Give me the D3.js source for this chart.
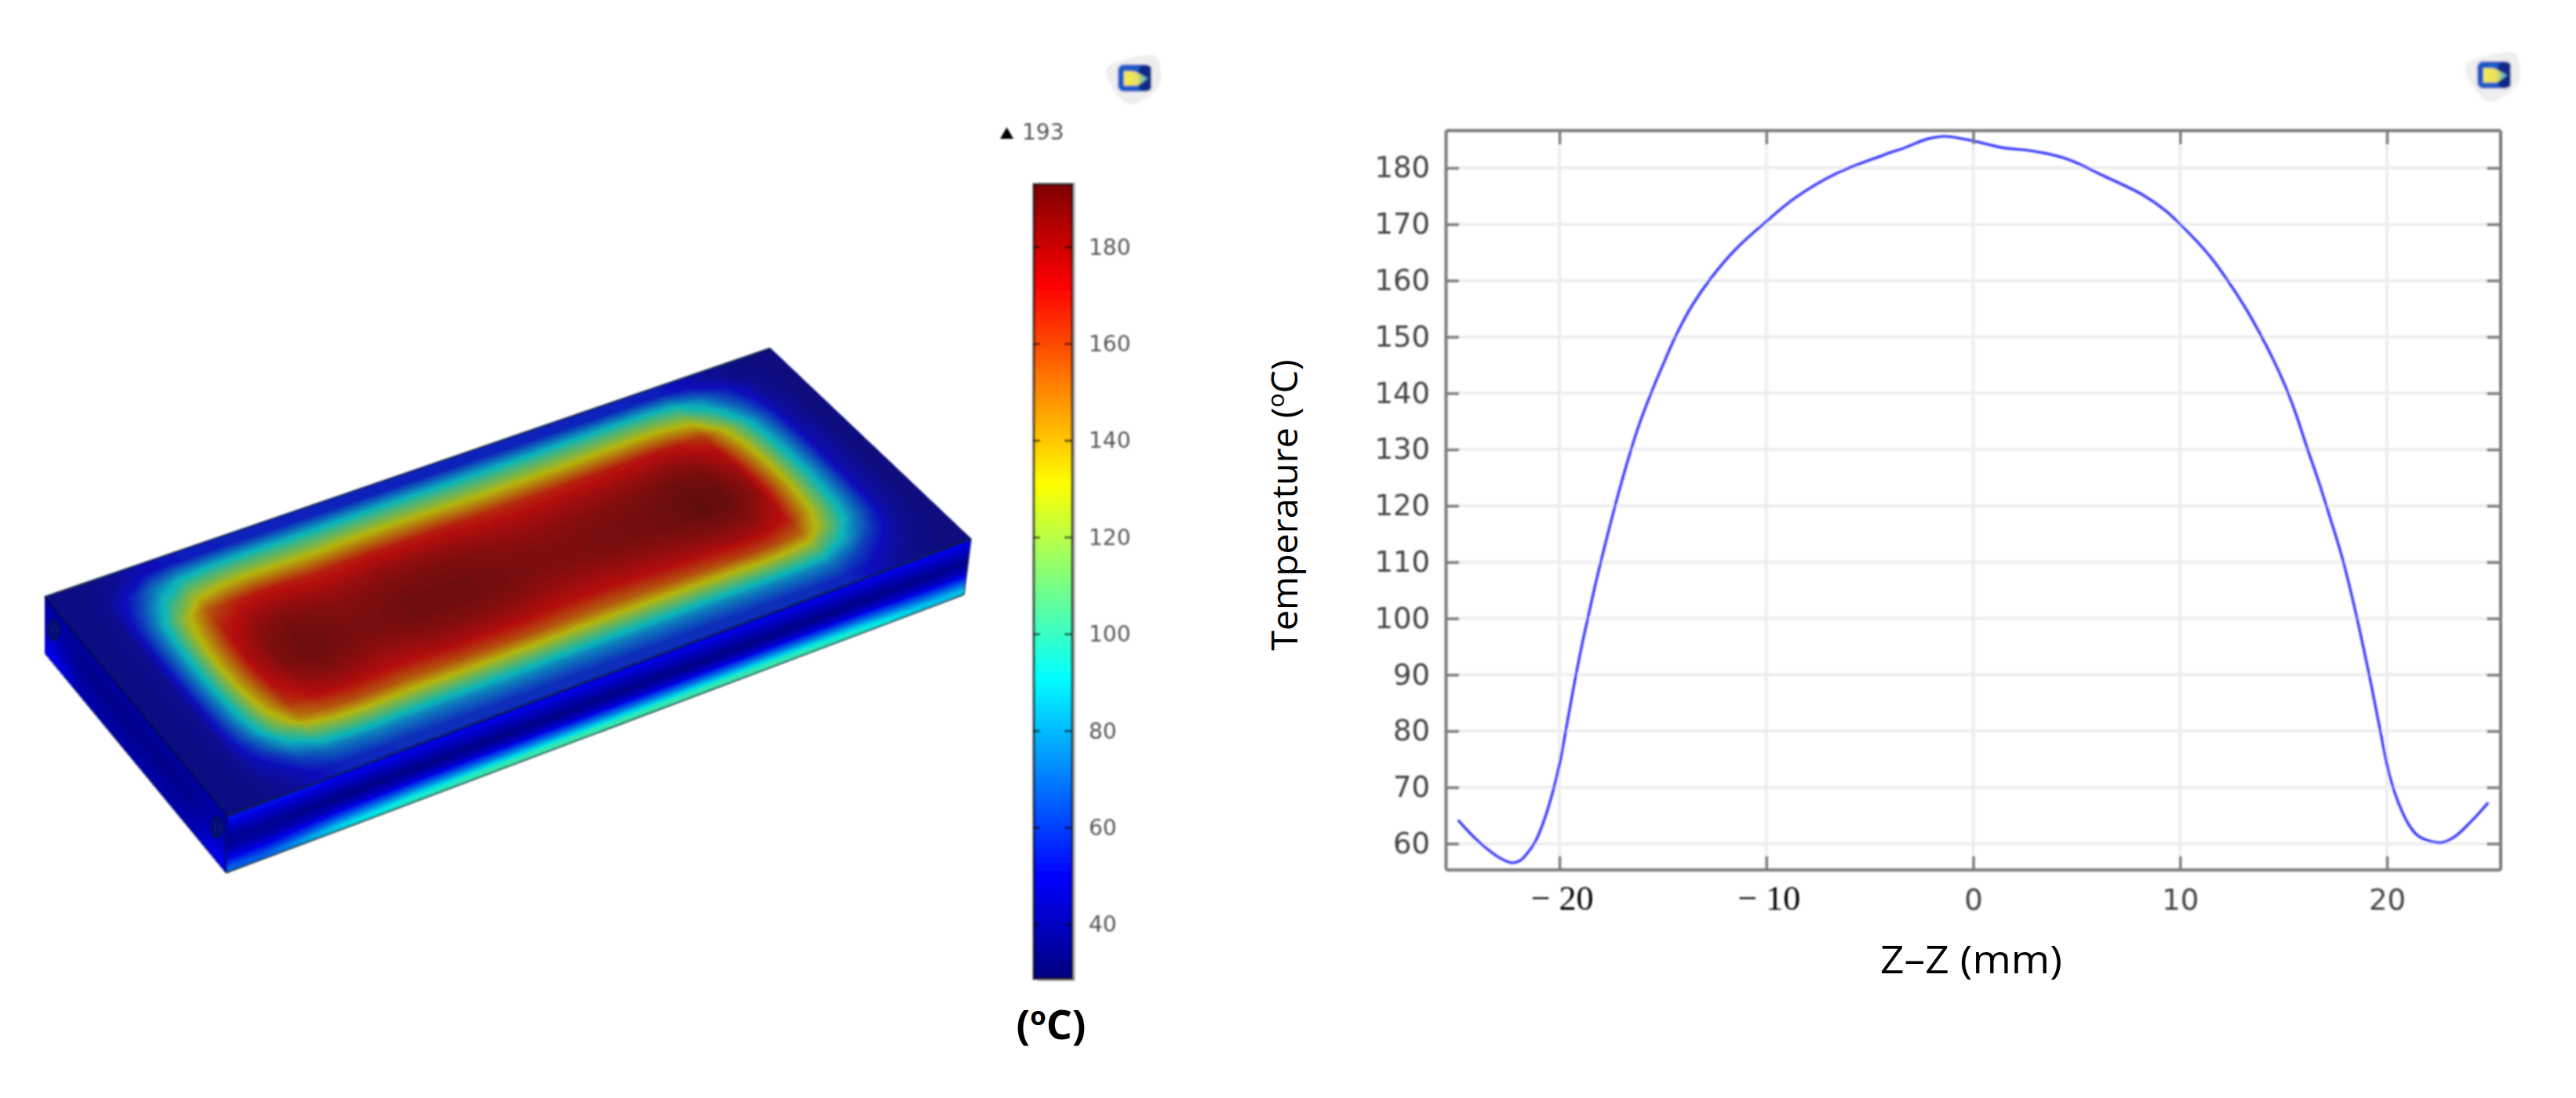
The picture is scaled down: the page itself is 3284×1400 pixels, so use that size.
<!DOCTYPE html>
<html>
<head>
<meta charset="utf-8">
<script src="https://cdn.jsdelivr.net/npm/d3@7"></script>
<style>
  html, body { margin: 0; padding: 0; background: #fff; }
  svg { display: block; }
</style>
</head>
<body>
<div id="chart"></div>
<script>
// Temperature along the Z-Z line
var zPositions = [-24.9, -24.25, -23.67, -22.9, -22.3, -21.9, -21.64, -21.16, -20.7, -20.3, -20, -19.77, -19.5, -19.2, -18.9, -18.6, -18.2, -17.8, -17.2, -16.7, -16.14, -15.46, -15, -14.4, -13.6, -12.66, -11.5, -10, -8.6, -6.68, -4.4, -3.3, -2.25, -1.4, 0, 1.4, 2.9, 4.6, 6.3, 8.2, 9.3, 10, 10.8, 11.6, 12.3, 13.1, 13.8, 14.5, 15.08, 15.6, 16.15, 16.7, 17.2, 17.86, 18.5, 19.14, 19.68, 20.1, 20.53, 21.07, 21.5, 22.14, 22.67, 23.3, 24.06, 24.9];
var temperatures = [64.2, 61.6, 59.6, 57.5, 56.6, 57, 57.9, 60.4, 64.6, 69.5, 74, 78.5, 84, 90, 95.5, 100.5, 107, 113, 121.5, 128, 134.5, 141, 145, 150, 155.5, 160.5, 165.5, 170.5, 174.7, 178.9, 182.2, 183.6, 185.1, 185.6, 184.8, 183.6, 183, 181.5, 178.6, 175.2, 172.4, 170, 167, 163.6, 160, 155.5, 151, 146, 141.3, 136.3, 130.2, 124.3, 118.5, 110.5, 100.9, 90, 80, 72.5, 67.5, 63.3, 61.4, 60.4, 60.2, 61.3, 63.9, 67.3];

var zTicks = [-20, -10, 0, 10, 20];
var tempTicks = [60, 70, 80, 90, 100, 110, 120, 130, 140, 150, 160, 170, 180];
var colorbarTicks = [40, 60, 80, 100, 120, 140, 160, 180];

// Rainbow table of the colour legend
var colorTemps = [28.8, 50, 91, 131, 172, 193];
var colorValues = ["#00007f", "#0000ff", "#00ffff", "#ffff00", "#ff0000", "#7f0000"];

var topFaceTemps = [
  [36,37,40,48,53,54,55,55,55,55,55,55,55,55,55,55,55,55,55,55,55,55,55,54,48,40,36,35],
  [36,38,54,77,93,98,100,100,99,99,100,100,100,100,99,99,99,99,99,100,100,101,100,96,77,56,39,35],
  [36,38,65,98,124,131,134,133,132,132,134,134,134,133,132,131,131,132,132,133,134,135,134,128,99,68,42,35],
  [36,39,75,120,154,165,168,167,165,166,167,167,167,167,165,164,164,165,166,167,168,170,168,160,122,80,44,35],
  [36,39,79,128,165,177,180,179,177,178,180,180,180,179,177,176,176,177,178,179,180,182,180,171,130,85,45,35],
  [36,39,81,132,172,183,187,185,183,184,186,186,186,185,183,182,182,183,184,185,187,189,187,177,134,87,46,35],
  [36,39,82,134,174,186,190,188,186,187,189,189,189,188,186,185,185,186,187,188,190,192,190,180,136,88,46,35],
  [36,39,82,134,174,186,190,188,186,187,189,189,189,188,186,185,185,186,187,188,190,192,190,180,136,88,46,35],
  [36,39,80,131,169,181,185,183,181,182,184,184,184,183,181,180,180,181,182,183,185,186,185,175,132,86,46,35],
  [36,39,78,125,162,173,176,175,173,174,176,176,176,175,173,172,172,173,174,175,176,178,176,167,127,83,45,35],
  [36,39,72,112,144,153,156,155,153,154,155,155,155,155,153,152,152,153,154,155,156,158,156,148,114,76,44,35],
  [36,38,60,88,109,116,118,117,116,117,117,117,117,117,116,116,116,116,117,117,118,119,118,113,89,63,41,35],
  [36,38,48,64,75,78,80,79,79,79,80,80,80,79,79,79,79,79,79,79,80,80,80,77,64,49,38,35],
  [36,37,41,50,56,57,58,58,58,58,58,58,58,58,58,58,58,58,58,58,58,58,58,57,50,41,36,35]
];
var frontFaceTemps = [
  [52,50,49,49,49,49,49,49,49,50],
  [42,40,40,40,40,40,40,40,40,41],
  [34,32,32,32,32,32,32,32,32,33],
  [38,42,44,44,44,44,44,44,44,42],
  [50,62,68,70,70,70,70,70,68,62],
  [66,86,96,100,100,100,100,100,96,84]
];
var sideFaceTemps = [
  [38,36,36,36,36,36,36,38],
  [40,34,33,33,33,33,34,40],
  [44,36,35,35,35,35,36,44],
  [50,40,38,38,38,38,40,50]
];

var width = 3284, height = 1400;

var svg = d3.select("#chart").append("svg")
  .attr("width", width)
  .attr("height", height);

var defs = svg.append("defs");
defs.append("filter").attr("id", "soft")
  .attr("x", "-5%").attr("y", "-5%").attr("width", "110%").attr("height", "110%")
  .append("feGaussianBlur").attr("stdDeviation", 0.9);
defs.append("filter").attr("id", "softer")
  .attr("x", "-20%").attr("y", "-20%").attr("width", "140%").attr("height", "140%")
  .append("feGaussianBlur").attr("stdDeviation", 1.8);

var jet = d3.scaleLinear().domain(colorTemps).range(colorValues).interpolate(d3.interpolateRgb);

// The top face is lit a bit duller than the legend
function shaded(t) {
  var c = d3.rgb(jet(t));
  return d3.rgb(c.r * 0.68 + 8, c.g * 0.68 + 8, c.b * 0.68 + 14).formatHex();
}
function sideShaded(t) {
  var c = d3.rgb(jet(t));
  return d3.rgb(c.r * 0.9, c.g * 0.9, c.b * 0.9).formatHex();
}

// ---- slab, left panel
var corner = {
  a: [57, 761], b: [982, 444], c: [1238, 687], d: [290, 1040],
  e: [288, 1113], f: [57, 833], g: [1229, 758]
};

function quadMap(p00, p10, p11, p01) {
  return function(u, v) {
    return [
      (1 - u) * (1 - v) * p00[0] + u * (1 - v) * p10[0] + u * v * p11[0] + (1 - u) * v * p01[0],
      (1 - u) * (1 - v) * p00[1] + u * (1 - v) * p10[1] + u * v * p11[1] + (1 - u) * v * p01[1]
    ];
  };
}

var faceCount = 0;
function drawFace(parent, temps, p00, p10, p11, p01, fill) {
  var map = quadMap(p00, p10, p11, p01);
  var rows = temps.length, cols = temps[0].length;
  // repeat the outer cells so the contour corners are not chamfered inside the face
  var padded = [temps[0]].concat(temps, [temps[rows - 1]]).map(function(r) {
    return [r[0]].concat(r, [r[cols - 1]]);
  });
  var levels = d3.range(28, 194, 1.5);
  var contours = d3.contours().size([cols + 2, rows + 2]).thresholds(levels)(padded.flat());
  var path = d3.geoPath(d3.geoTransform({
    point: function(x, y) {
      var p = map((x - 1) / cols, (y - 1) / rows);
      this.stream.point(p[0], p[1]);
    }
  }));
  var id = "face" + (faceCount++);
  defs.append("clipPath").attr("id", id)
    .append("polygon").attr("points", [p00, p10, p11, p01].join(" "));
  parent.append("g").attr("clip-path", "url(#" + id + ")")
    .selectAll("path")
    .data(contours)
    .join("path")
    .attr("d", path)
    .attr("fill", function(d) { return fill(d.value + 0.75); });
}

var slab = svg.append("g").attr("filter", "url(#soft)");
drawFace(slab, topFaceTemps, corner.a, corner.b, corner.c, corner.d, shaded);
drawFace(slab, frontFaceTemps, corner.d, corner.c, corner.g, corner.e, sideShaded);
drawFace(slab, sideFaceTemps, corner.a, corner.d, corner.e, corner.f, sideShaded);

var edgeLine = d3.line();
[[corner.a, corner.b, "#1a2a45", 2], [corner.a, corner.d, "#060c40", 2],
 [corner.d, corner.c, "#0a1a3a", 2.5], [corner.d, corner.e, "#060c40", 2],
 [corner.f, corner.e, "#404a70", 1], [corner.e, corner.g, "#2a4a50", 2], [corner.c, corner.g, "#202a50", 1.5]
].forEach(function(edge) {
  slab.append("path")
    .attr("d", edgeLine([edge[0], edge[1]]))
    .attr("fill", "none")
    .attr("stroke", edge[2])
    .attr("stroke-width", edge[3]);
});

// screw holes on the side face
[[68.6, 803], [276.5, 1055]].forEach(function(h) {
  slab.append("ellipse").attr("cx", h[0]).attr("cy", h[1]).attr("rx", 7.5).attr("ry", 13)
    .attr("fill", "#000a80").attr("stroke", "#0a1040").attr("stroke-width", 2);
  slab.append("ellipse").attr("cx", h[0] + 1).attr("cy", h[1] + 1).attr("rx", 3.5).attr("ry", 7)
    .attr("fill", "none").attr("stroke", "#101a70").attr("stroke-width", 1.5);
});

// ---- colour legend
var cbarX = 1318, cbarW = 49;
var cbarY = d3.scaleLinear().domain([28.8, 193]).range([1248, 235]);

var grad = defs.append("linearGradient").attr("id", "jetGrad")
  .attr("x1", 0).attr("x2", 0).attr("y1", 1).attr("y2", 0);
grad.selectAll("stop")
  .data(colorTemps)
  .join("stop")
  .attr("offset", function(d) { return (d - 28.8) / (193 - 28.8); })
  .attr("stop-color", function(d, i) { return colorValues[i]; });

var cbar = svg.append("g").attr("filter", "url(#soft)");
cbar.append("rect")
  .attr("x", cbarX + 4).attr("y", cbarY(193) - 2)
  .attr("width", cbarW).attr("height", cbarY(28.8) - cbarY(193) + 5)
  .attr("fill", "#c4c4c4");
cbar.append("rect")
  .attr("x", cbarX).attr("y", cbarY(193))
  .attr("width", cbarW).attr("height", cbarY(28.8) - cbarY(193))
  .attr("fill", "url(#jetGrad)")
  .attr("stroke", "#000").attr("stroke-opacity", 0.75).attr("stroke-width", 3);

cbar.selectAll("line.lt")
  .data(colorbarTicks)
  .join("line")
  .attr("class", "lt")
  .attr("x1", cbarX).attr("x2", cbarX + 8)
  .attr("y1", function(d) { return cbarY(d); }).attr("y2", function(d) { return cbarY(d); });
cbar.selectAll("line.rt")
  .data(colorbarTicks)
  .join("line")
  .attr("class", "rt")
  .attr("x1", cbarX + cbarW - 10).attr("x2", cbarX + cbarW)
  .attr("y1", function(d) { return cbarY(d); }).attr("y2", function(d) { return cbarY(d); });
cbar.selectAll("line").attr("stroke", "#000").attr("stroke-opacity", 0.6).attr("stroke-width", 3);

var cbarAxis = cbar.append("g")
  .attr("transform", "translate(" + (cbarX + cbarW) + ",0)")
  .call(d3.axisRight(cbarY).tickValues(colorbarTicks).tickSize(0).tickPadding(21));
cbarAxis.select(".domain").remove();
cbarAxis.selectAll("text")
  .attr("font-family", "DejaVu Sans")
  .attr("font-size", 28)
  .attr("fill", "#555");

cbar.append("path")
  .attr("d", d3.symbol(d3.symbolTriangle, 125)())
  .attr("transform", "translate(1283.5,172)")
  .attr("fill", "#000");
cbar.append("text")
  .attr("x", 1303).attr("y", 178)
  .attr("font-family", "DejaVu Sans")
  .attr("font-size", 28)
  .attr("fill", "#555")
  .text("193");

var unit = svg.append("text")
  .attr("x", 1340).attr("y", 1325)
  .attr("text-anchor", "middle")
  .attr("font-family", "Open Sans")
  .attr("font-weight", 700)
  .attr("font-size", 52)
  .attr("fill", "#000");
unit.append("tspan").text("(");
unit.append("tspan").attr("font-size", 33).attr("dy", -18).text("o");
unit.append("tspan").attr("dy", 18).text("C)");

// ---- line plot, right panel
var x = d3.scaleLinear().domain([-25.5, 25.48]).range([1843, 3187.5]);
var y = d3.scaleLinear().domain([55.4, 186.7]).range([1108.7, 166]);

var plot = svg.append("g").attr("filter", "url(#soft)");

plot.append("g").selectAll("line")
  .data(tempTicks)
  .join("line")
  .attr("x1", x.range()[0]).attr("x2", x.range()[1])
  .attr("y1", function(d) { return y(d); }).attr("y2", function(d) { return y(d); })
  .attr("stroke", "#eeeeee").attr("stroke-width", 4);
plot.append("g").selectAll("line")
  .data(zTicks)
  .join("line")
  .attr("y1", y.range()[0]).attr("y2", y.range()[1])
  .attr("x1", function(d) { return x(d); }).attr("x2", function(d) { return x(d); })
  .attr("stroke", "#eeeeee").attr("stroke-width", 4);

plot.append("path")
  .datum(zPositions)
  .attr("d", d3.line()
    .curve(d3.curveCatmullRom)
    .x(function(d) { return x(d); })
    .y(function(d, i) { return y(temperatures[i]); }))
  .attr("fill", "none")
  .attr("stroke", "#3a3aff")
  .attr("stroke-width", 3.4);

var axisColor = "#7a7a7a";
function styleAxis(g) {
  g.selectAll(".domain").attr("stroke", axisColor).attr("stroke-width", 4);
  g.selectAll(".tick line").attr("stroke", axisColor).attr("stroke-width", 3.5);
}

var leftAxis = plot.append("g")
  .attr("transform", "translate(" + x.range()[0] + ",0)")
  .call(d3.axisLeft(y).tickValues(tempTicks).tickSize(-17).tickPadding(20).tickSizeOuter(0))
  .call(styleAxis);
leftAxis.selectAll("text")
  .attr("font-family", "DejaVu Sans")
  .attr("font-size", 37)
  .attr("fill", "#444");

plot.append("g")
  .attr("transform", "translate(" + x.range()[1] + ",0)")
  .call(d3.axisRight(y).tickValues(tempTicks).tickSize(-17).tickFormat("").tickSizeOuter(0))
  .call(styleAxis);
plot.append("g")
  .attr("transform", "translate(0," + y.range()[1] + ")")
  .call(d3.axisTop(x).tickValues(zTicks).tickSize(-18).tickFormat("").tickSizeOuter(0))
  .call(styleAxis);

var bottomAxis = plot.append("g")
  .attr("transform", "translate(0," + y.range()[0] + ")")
  .call(d3.axisBottom(x).tickValues(zTicks).tickSize(-17).tickSizeOuter(0)
    .tickFormat(function(d) { return d < 0 ? "\u2212 " + Math.abs(d) : d; }))
  .call(styleAxis);
bottomAxis.selectAll("text")
  .attr("dy", 0)
  .attr("dx", function(d) { return d < 0 ? 3 : 0; })
  .attr("y", 51)
  .attr("font-family", function(d) { return d < 0 ? "Liberation Serif" : "DejaVu Sans"; })
  .attr("font-size", function(d) { return d < 0 ? 44 : 37; })
  .attr("fill", function(d) { return d < 0 ? "#000" : "#444"; });

svg.append("text")
  .attr("x", 2513).attr("y", 1241)
  .attr("text-anchor", "middle")
  .attr("font-family", "Open Sans")
  .attr("font-size", 50)
  .attr("textLength", 232)
  .attr("lengthAdjust", "spacingAndGlyphs")
  .attr("fill", "#000")
  .text("Z\u2013Z (mm)");

var yTitle = svg.append("text")
  .attr("transform", "translate(1654,644) rotate(-90)")
  .attr("text-anchor", "middle")
  .attr("font-family", "Open Sans")
  .attr("font-size", 46.5)
  .attr("fill", "#000");
yTitle.append("tspan").text("Temperature (");
yTitle.append("tspan").attr("font-size", 30).attr("dy", -17).text("o");
yTitle.append("tspan").attr("dy", 17).text("C)");

// ---- little software badge above each panel
var badgeGrad = defs.append("linearGradient").attr("id", "badgeGrad");
badgeGrad.append("stop").attr("offset", 0).attr("stop-color", "#f6ea50");
badgeGrad.append("stop").attr("offset", 0.55).attr("stop-color", "#e8e060");
badgeGrad.append("stop").attr("offset", 1).attr("stop-color", "#2aa0e8");

function drawBadge(cx, cy) {
  var g = svg.append("g").attr("transform", "translate(" + cx + "," + cy + ")").attr("filter", "url(#softer)");
  g.append("path")
    .attr("d", d3.line().curve(d3.curveCardinalClosed)([[-34, -14], [20, -30], [33, -15], [30, 12], [-2, 33], [-22, 20]]))
    .attr("fill", "#eeeeee");
  g.append("rect").attr("x", -21).attr("y", -18).attr("width", 43).attr("height", 35).attr("rx", 8)
    .attr("fill", "#1a5cc8");
  g.append("rect").attr("x", 6).attr("y", -17).attr("width", 16).attr("height", 33).attr("rx", 5)
    .attr("fill", "#0c2a88");
  g.append("path")
    .attr("d", d3.line()([[-13, -9], [0, -9], [18, 0], [4, 9], [-13, 9]]))
    .attr("fill", "url(#badgeGrad)");
}
drawBadge(1446, 100);
drawBadge(3179, 96);
</script>
</body>
</html>
